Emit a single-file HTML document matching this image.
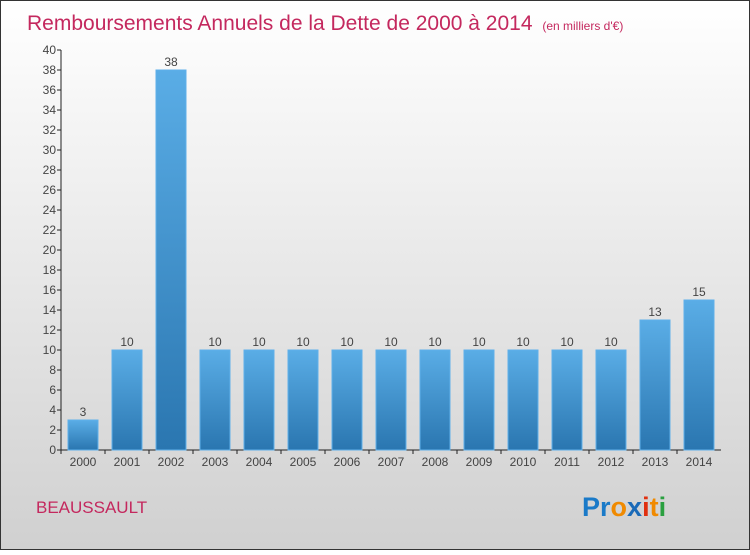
<!DOCTYPE html>
<html><head><meta charset="utf-8"><style>
body{margin:0;width:750px;height:550px;overflow:hidden;font-family:"Liberation Sans",sans-serif}
</style></head><body>
<svg width="750" height="550" xmlns="http://www.w3.org/2000/svg">
<defs>
<linearGradient id="bg" x1="0" y1="0" x2="0" y2="1"><stop offset="0" stop-color="#ffffff"/><stop offset="1" stop-color="#d0d0d0"/></linearGradient>
<linearGradient id="bar" x1="0" y1="0" x2="0" y2="1"><stop offset="0" stop-color="#5aade6"/><stop offset="1" stop-color="#2a76b0"/></linearGradient>
</defs>
<rect x="0.5" y="0.5" width="749" height="549" fill="url(#bg)" stroke="#333"/>
<text x="27" y="30" font-size="21" fill="#c4285e">Remboursements Annuels de la Dette de 2000 à 2014 <tspan font-size="12" dx="4">(en milliers d'€)</tspan></text>
<g id="axes"></g>
<g id="bars"></g>
<text x="36" y="513" font-size="17" fill="#c4285e">BEAUSSAULT</text>
<text x="582" y="516" font-size="27" font-weight="bold"><tspan fill="#1a7ac8">Pr</tspan><tspan fill="#f08a00">o</tspan><tspan fill="#1a6ab8">x</tspan><tspan fill="#e03010">i</tspan><tspan fill="#f08a00">t</tspan><tspan fill="#2aa040">i</tspan></text>
</svg>
<script>
const categories=["2000","2001","2002","2003","2004","2005","2006","2007","2008","2009","2010","2011","2012","2013","2014"];
const values=[3,10,38,10,10,10,10,10,10,10,10,10,10,13,15];
const yTicks=[0,2,4,6,8,10,12,14,16,18,20,22,24,26,28,30,32,34,36,38,40];
const NS="http://www.w3.org/2000/svg";
const x0=61,band=44,barW=30,off=7;
const y=v=>450-v*10;
const bx=i=>x0+i*band;
function mk(t,a,p,txt){const e=document.createElementNS(NS,t);for(const k in a)e.setAttribute(k,a[k]);if(txt!==undefined)e.textContent=txt;p.appendChild(e);return e;}
const ax=document.getElementById('axes'),bg=document.getElementById('bars');
let l=mk('line',{x1:x0,y1:50,x2:x0,y2:450,stroke:'#222'},ax);


l=mk('line',{x1:x0,y1:450,x2:x0+band*categories.length,y2:450,stroke:'#222'},ax);


yTicks.forEach(t=>{
 mk('line',{x1:x0-4,y1:y(t),x2:x0,y2:y(t),stroke:'#222'},ax);
 const e=mk('text',{x:x0-5,y:y(t)+4,'font-size':12,'text-anchor':'end',fill:'#444'},ax,String(t));
 
 
});
categories.forEach((c,i)=>{
 mk('line',{x1:bx(i),y1:450,x2:bx(i),y2:454,stroke:'#222'},ax);
 const e=mk('text',{x:bx(i)+band/2,y:466,'font-size':12,'text-anchor':'middle',fill:'#444'},ax,c);
 
 
 const r=mk('rect',{x:bx(i)+off,y:y(values[i]),width:barW,height:values[i]*10,fill:'url(#bar)',stroke:'#5fb0ea','stroke-width':1},bg);
 
 
 const v=mk('text',{x:bx(i)+off+barW/2,y:y(values[i])-4,'font-size':12,'text-anchor':'middle',fill:'#444'},bg,String(values[i]));
 
 
});
</script>
</body></html>
